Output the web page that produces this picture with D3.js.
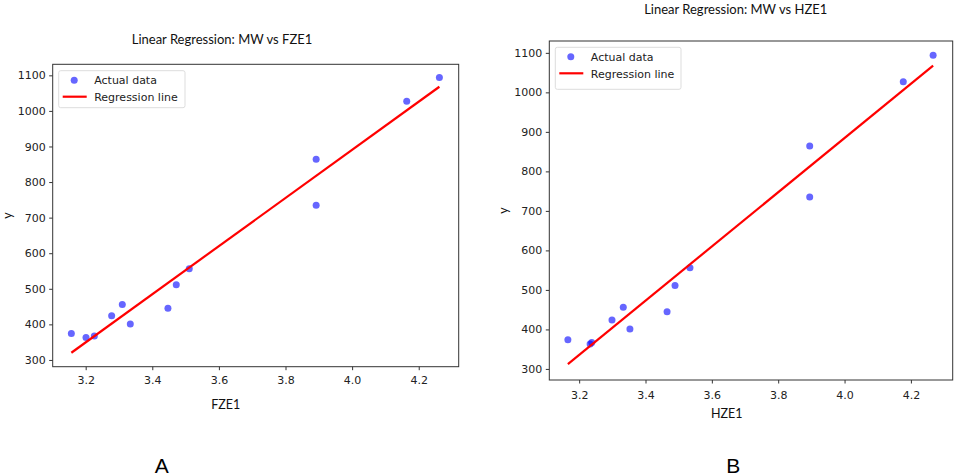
<!DOCTYPE html>
<html>
<head>
<meta charset="utf-8">
<script src="https://cdn.jsdelivr.net/npm/d3@7"></script>
<style>
  body { margin: 0; background: #fff; }
  svg { display: block; }
  .tick text { font-family: "DejaVu Sans", sans-serif; font-size: 11px; fill: #222; }
  .ttl { font-family: Lato, "Open Sans", sans-serif; font-size: 13px; fill: #111; }
  .lbl { font-family: Lato, "Open Sans", sans-serif; font-size: 12.5px; fill: #111; }
  .leg { font-family: "DejaVu Sans", sans-serif; font-size: 11px; fill: #222; }
  .letter { font-family: "Liberation Sans", Arial, sans-serif; font-size: 21px; fill: #000; }
</style>
</head>
<body>
<svg id="fig" width="955" height="476"></svg>
<script>
// data
var mwY   = [374, 363, 367, 424, 456, 401, 445, 511, 556, 864, 735, 1027, 1094];
var fze1X = [3.157, 3.201, 3.226, 3.278, 3.310, 3.334, 3.447, 3.472, 3.511, 3.892, 3.892, 4.164, 4.262];
var hze1X = [3.166, 3.233, 3.238, 3.299, 3.333, 3.353, 3.465, 3.489, 3.534, 3.895, 3.895, 4.177, 4.267];
var xTicks = [3.2, 3.4, 3.6, 3.8, 4.0, 4.2];
var yTicks = [300, 400, 500, 600, 700, 800, 900, 1000, 1100];
var legendLabels = ["Actual data", "Regression line"];

var svg = d3.select("#fig");

// least squares fit
function fit(xs, ys) {
    var mx = d3.mean(xs), my = d3.mean(ys);
    var sxy = d3.sum(xs, (x, i) => (x - mx) * (ys[i] - my));
    var sxx = d3.sum(xs, x => (x - mx) * (x - mx));
    var b = sxy / sxx;
    return x => my + b * (x - mx);
}

function drawPanel(p) {
    var x = d3.scaleLinear().domain(p.xDomain).range([p.left, p.right]);
    var y = d3.scaleLinear().domain(p.yDomain).range([p.bottom, p.top]);
    var g = svg.append("g");

    // axes
    var xa = g.append("g").attr("transform", "translate(0," + p.bottom + ")")
        .call(d3.axisBottom(x).tickValues(xTicks).tickFormat(d3.format(".1f")).tickSize(3.5).tickPadding(p.xPad));
    var ya = g.append("g").attr("transform", "translate(" + p.left + ",0)")
        .call(d3.axisLeft(y).tickValues(yTicks).tickFormat(d3.format("d")).tickSize(3.5).tickPadding(3.5));
    [xa, ya].forEach(a => {
        a.select(".domain").remove();
        a.selectAll("line").attr("stroke", "#333");
    });

    // points
    var pts = p.xs.map((v, i) => [v, mwY[i]]);
    g.selectAll("circle.pt").data(pts).enter().append("circle")
        .attr("class", "pt")
        .attr("cx", d => x(d[0]))
        .attr("cy", d => y(d[1]))
        .attr("r", 3.5)
        .attr("fill", "blue")
        .attr("fill-opacity", 0.6);

    // regression line
    var f = fit(p.xs, mwY);
    var ext = d3.extent(p.xs);
    g.append("path")
        .attr("d", d3.line().x(d => x(d)).y(d => y(f(d)))(ext))
        .attr("stroke", "red").attr("stroke-width", 2.2).attr("fill", "none");

    // frame
    g.append("rect")
        .attr("x", p.left).attr("y", p.top)
        .attr("width", p.right - p.left).attr("height", p.bottom - p.top)
        .attr("fill", "none").attr("stroke", "#333").attr("stroke-width", 1);

    // legend
    var L = p.legend;
    g.append("rect").attr("x", L.x).attr("y", L.y).attr("width", L.w).attr("height", L.h)
        .attr("rx", 2).attr("fill", "#fff").attr("fill-opacity", 0.8)
        .attr("stroke", "#ddd");
    g.append("circle").attr("cx", L.x + 15.5).attr("cy", L.y + 9.5).attr("r", 3.5)
        .attr("fill", "blue").attr("fill-opacity", 0.6);
    g.append("line").attr("x1", L.x + 4).attr("x2", L.x + 28)
        .attr("y1", L.y + 26).attr("y2", L.y + 26)
        .attr("stroke", "red").attr("stroke-width", 2.2);
    g.selectAll("text.leg").data(legendLabels).enter().append("text")
        .attr("class", "leg")
        .attr("x", L.x + 35.5)
        .attr("y", (d, i) => L.y + 9.5 + i * 17)
        .attr("dy", "0.35em")
        .text(d => d);

    // titles and labels
    g.append("text").attr("class", "ttl").attr("x", p.titleX).attr("y", p.titleY)
        .attr("text-anchor", "middle").attr("dy", "0.35em").text(p.title);
    g.append("text").attr("class", "lbl").attr("x", p.xLabelX).attr("y", p.xLabelY)
        .attr("text-anchor", "middle").attr("dy", "0.35em").text(p.xLabel);
    g.append("text").attr("class", "lbl")
        .attr("transform", "translate(" + p.yLabelX + "," + (p.top + p.bottom) / 2 + ") rotate(-90)")
        .attr("text-anchor", "middle").attr("dy", "0.35em").text("y");
    g.append("text").attr("class", "letter").attr("x", p.letterX).attr("y", 466)
        .attr("text-anchor", "middle").attr("dy", "0.35em").text(p.letter);
}

drawPanel({
    xs: fze1X, title: "Linear Regression: MW vs FZE1", xLabel: "FZE1", letter: "A",
    left: 52.7, right: 458.7, top: 64.3, bottom: 366.7,
    xDomain: [3.101, 4.32], yDomain: [281, 1131], xPad: 6,
    titleX: 222, titleY: 39, xLabelX: 225.7, xLabelY: 405, yLabelX: 8, letterX: 161.7,
    legend: { x: 58.7, y: 70.7, w: 126.3, h: 37 }
});

drawPanel({
    xs: hze1X, title: "Linear Regression: MW vs HZE1", xLabel: "HZE1", letter: "B",
    left: 549.3, right: 952.7, top: 41, bottom: 380,
    xDomain: [3.11, 4.326], yDomain: [272, 1130], xPad: 7.5,
    titleX: 735.7, titleY: 9, xLabelX: 726.7, xLabelY: 413.3, yLabelX: 504, letterX: 733.3,
    legend: { x: 555.3, y: 47.3, w: 125.7, h: 42 }
});
</script>
</body>
</html>
